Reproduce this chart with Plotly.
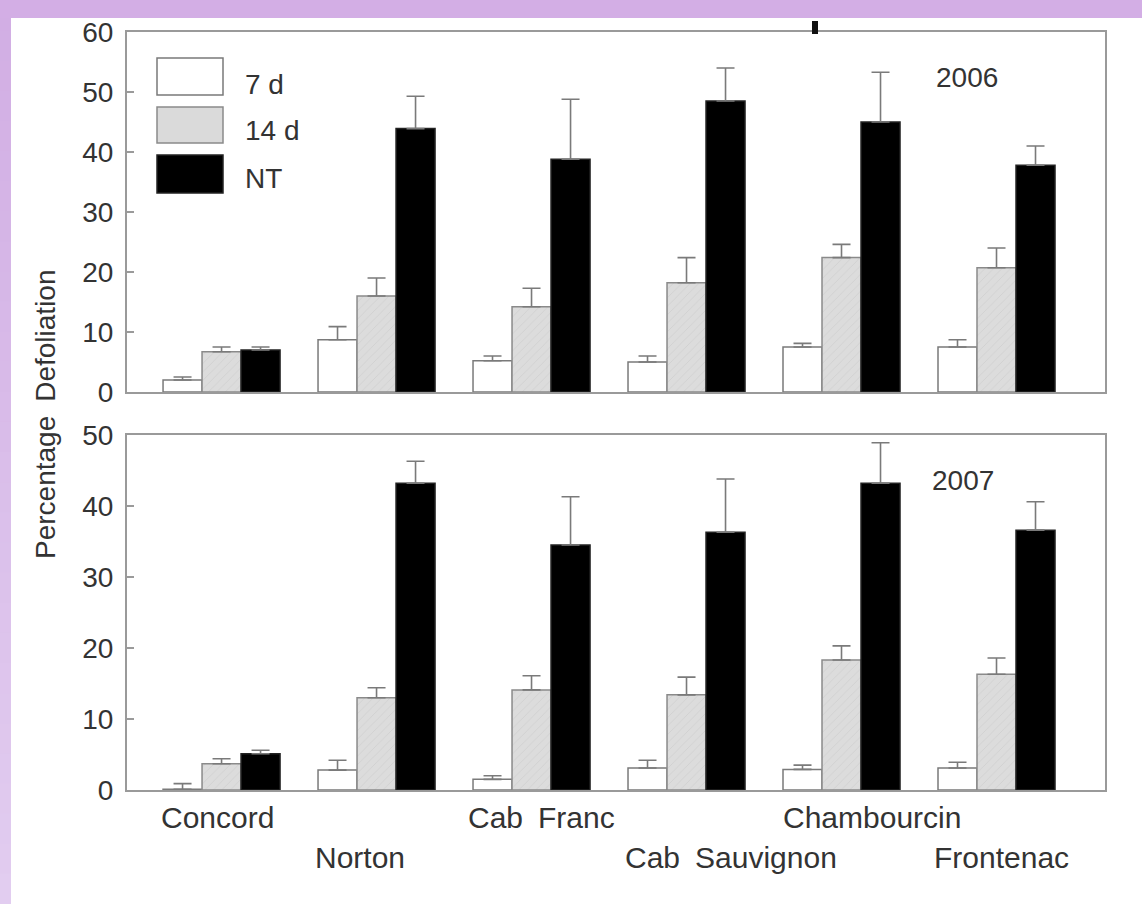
import plotly.graph_objects as go

W, H = 1142, 904

categories = ["Concord", "Norton", "Cab Franc", "Cab Sauvignon", "Chambourcin", "Frontenac"]
series_names = ["7 d", "14 d", "NT"]

# 2006 means and upper standard errors
y2006_7d = [2.0, 8.7, 5.2, 5.0, 7.5, 7.5]
y2006_14d = [6.7, 16.0, 14.2, 18.2, 22.4, 20.7]
y2006_nt = [7.0, 43.9, 38.8, 48.5, 45.0, 37.8]
e2006_7d = [0.5, 2.2, 0.8, 1.0, 0.6, 1.2]
e2006_14d = [0.8, 3.0, 3.1, 4.2, 2.2, 3.3]
e2006_nt = [0.5, 5.4, 10.0, 5.5, 8.3, 3.2]

# 2007 means and upper standard errors
y2007_7d = [0.1, 2.8, 1.5, 3.1, 2.9, 3.1]
y2007_14d = [3.7, 13.0, 14.1, 13.4, 18.3, 16.3]
y2007_nt = [5.1, 43.2, 34.5, 36.3, 43.2, 36.6]
e2007_7d = [0.8, 1.4, 0.5, 1.1, 0.6, 0.8]
e2007_14d = [0.7, 1.4, 2.0, 2.5, 2.0, 2.3]
e2007_nt = [0.5, 3.1, 6.8, 7.5, 5.7, 4.0]

year_labels = ["2006", "2007"]
y_ticks_top = [0, 10, 20, 30, 40, 50, 60]
y_ticks_bottom = [0, 10, 20, 30, 40, 50]

FONT = "Liberation Sans, Arial, sans-serif"
TXT = "#333333"
FS = 28

styles = [
    dict(color="white", line=dict(color="#7a7a7a", width=1.5)),
    dict(color="#dadada", line=dict(color="#8a8a8a", width=1.5),
         pattern=dict(shape="/", bgcolor="#dcdcdc", fgcolor="#c4c4c4", size=6, solidity=0.15)),
    dict(color="black", line=dict(color="#222222", width=1.5)),
]

fig = go.Figure()

top_sets = [(y2006_7d, e2006_7d), (y2006_14d, e2006_14d), (y2006_nt, e2006_nt)]
bot_sets = [(y2007_7d, e2007_7d), (y2007_14d, e2007_14d), (y2007_nt, e2007_nt)]

for i, (vals, errs) in enumerate(top_sets):
    fig.add_trace(go.Bar(
        x=categories, y=vals, name=series_names[i], xaxis="x", yaxis="y",
        marker=styles[i], showlegend=False,
        error_y=dict(type="data", array=errs, arrayminus=[0] * len(errs), symmetric=False,
                     color="#7a7a7a", thickness=1.6, width=9),
    ))
for i, (vals, errs) in enumerate(bot_sets):
    fig.add_trace(go.Bar(
        x=categories, y=vals, name=series_names[i], xaxis="x2", yaxis="y2",
        marker=styles[i], showlegend=False,
        error_y=dict(type="data", array=errs, arrayminus=[0] * len(errs), symmetric=False,
                     color="#7a7a7a", thickness=1.6, width=9),
    ))

def px_x(p):
    return p / W

def px_y(p):
    return 1 - p / H

xdom = [px_x(127), px_x(1105)]
xr = [-0.61, 5.70]
axis_common = dict(showline=True, mirror=True, linecolor="#9a9a9a", linewidth=2,
                   showgrid=False, zeroline=False, fixedrange=True, automargin=False)

fig.update_layout(
    width=W, height=H,
    margin=dict(l=0, r=0, t=0, b=0, pad=0),
    paper_bgcolor="white", plot_bgcolor="white",
    barmode="group", bargap=0.245, bargroupgap=0,
    font=dict(family=FONT, size=FS, color=TXT),
    xaxis=dict(domain=xdom, anchor="y", range=xr, type="category",
               showticklabels=False, ticks="", **axis_common),
    yaxis=dict(domain=[px_y(392), px_y(32)], anchor="x", range=[0, 60],
               tickvals=y_ticks_top, ticks="inside", ticklen=7, tickcolor="#9a9a9a",
               tickwidth=1.5, ticklabelstandoff=6,
               tickfont=dict(family=FONT, size=FS, color=TXT), **axis_common),
    xaxis2=dict(domain=xdom, anchor="y2", range=xr, type="category",
                showticklabels=False, ticks="", **axis_common),
    yaxis2=dict(domain=[px_y(790), px_y(435)], anchor="x2", range=[0, 50],
                tickvals=y_ticks_bottom, ticks="inside", ticklen=7, tickcolor="#9a9a9a",
                tickwidth=1.5, ticklabelstandoff=6,
                tickfont=dict(family=FONT, size=FS, color=TXT), **axis_common),
    showlegend=False,
)

shapes = []
annotations = []

# purple frame (top strip and left gradient strip), bands overlap to avoid seams
n = 30
for k in range(n):
    t = k / (n - 1)
    r = int(0xd2 + (0xe2 - 0xd2) * t)
    g = int(0xae + (0xcd - 0xae) * t)
    b = int(0xe4 + (0xf0 - 0xe4) * t)
    top_px = H * k / n
    bot_px = min(H, H * (k + 1) / n + 3)
    shapes.append(dict(type="rect", xref="paper", yref="paper",
                       x0=0, x1=px_x(11), y0=px_y(bot_px), y1=px_y(top_px),
                       fillcolor=f"rgb({r},{g},{b})", line=dict(width=0), layer="below"))
shapes.append(dict(type="rect", xref="paper", yref="paper", x0=0, x1=1,
                   y0=px_y(18), y1=1, fillcolor="#d3aee5", line=dict(width=0), layer="below"))
# cut-off title remnant
shapes.append(dict(type="rect", xref="paper", yref="paper", x0=px_x(812), x1=px_x(818),
                   y0=px_y(34), y1=px_y(21), fillcolor="#111111", line=dict(width=0)))

# custom legend
leg_fill = ["white", "#dadada", "black"]
leg_line = ["#7a7a7a", "#8a8a8a", "#222222"]
box_tops = [58, 107, 155]
box_bots = [95, 143, 193]
text_y = [84, 131, 178]
for i in range(3):
    shapes.append(dict(type="rect", xref="paper", yref="paper",
                       x0=px_x(157), x1=px_x(223), y0=px_y(box_bots[i]), y1=px_y(box_tops[i]),
                       fillcolor=leg_fill[i], line=dict(color=leg_line[i], width=1.5)))
    annotations.append(dict(xref="paper", yref="paper", x=px_x(243), y=px_y(text_y[i]),
                            text=series_names[i], showarrow=False, xanchor="left",
                            yanchor="middle", font=dict(family=FONT, size=FS, color=TXT)))

# year labels
annotations.append(dict(xref="paper", yref="paper", x=px_x(967), y=px_y(77), text=year_labels[0],
                        showarrow=False, xanchor="center", yanchor="middle",
                        font=dict(family=FONT, size=FS, color=TXT)))
annotations.append(dict(xref="paper", yref="paper", x=px_x(963), y=px_y(481), text=year_labels[1],
                        showarrow=False, xanchor="center", yanchor="middle",
                        font=dict(family=FONT, size=FS, color=TXT)))

# y-axis title
annotations.append(dict(xref="paper", yref="paper", x=px_x(45), y=px_y(414),
                        text="Percentage\u2002Defoliation", textangle=-90, showarrow=False,
                        xanchor="center", yanchor="middle",
                        font=dict(family=FONT, size=FS, color=TXT)))

# staggered category labels
label_rows = [817, 857, 817, 857, 817, 857]
label_shift = [-4, -17, 10, 44, 30, 5]
label_text = ["Concord", "Norton", "Cab\u2002Franc", "Cab\u2002Sauvignon", "Chambourcin", "Frontenac"]
for i, c in enumerate(categories):
    annotations.append(dict(xref="x2", yref="paper", x=c, y=px_y(label_rows[i]),
                            xshift=label_shift[i], text=label_text[i], showarrow=False,
                            xanchor="center", yanchor="middle",
                            font=dict(family=FONT, size=30, color=TXT)))

fig.update_layout(shapes=shapes, annotations=annotations)
fig.write_html(
    "out.html",
    config={"displayModeBar": False, "staticPlot": True},
    post_script="document.body.style.margin='0';document.body.style.padding='0';",
)
